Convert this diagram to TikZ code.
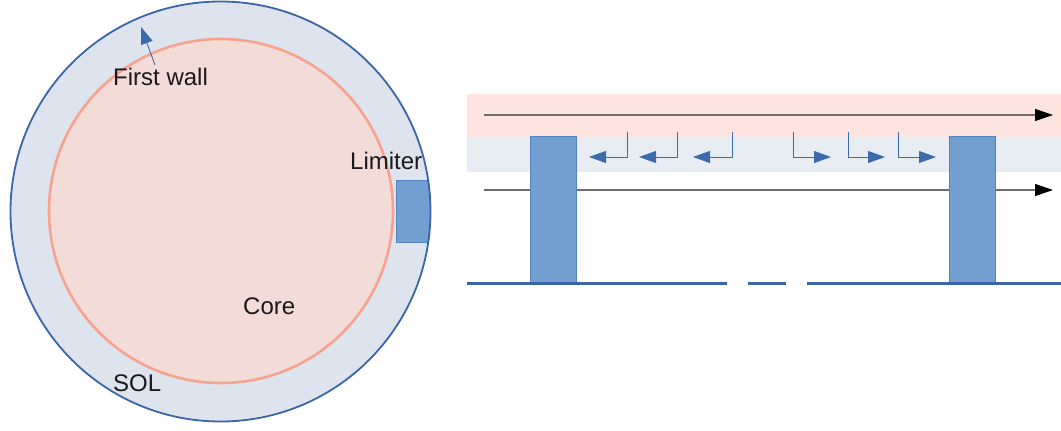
\documentclass[tikz,border=0pt]{standalone}
\usepackage{fontspec}
\setmainfont{Liberation Sans}
\usetikzlibrary{arrows.meta}
\definecolor{solfill}{HTML}{DDE4EE}
\definecolor{wallc}{HTML}{3A65A8}
\definecolor{corefill}{HTML}{F3DCD8}
\definecolor{corec}{HTML}{F7A28E}
\definecolor{pinkband}{HTML}{FDE4DF}
\definecolor{blueband}{HTML}{E8EDF3}
\definecolor{limfill}{HTML}{729FCF}
\definecolor{limdraw}{HTML}{5582C0}
\definecolor{arrc}{HTML}{3D6AAC}
\definecolor{flowc}{HTML}{6E6E6E}
\tikzset{
  lbl/.style={font=\fontsize{24}{28}\selectfont, text=black!90, inner sep=0pt},
  limbox/.style={fill=limfill, draw=limdraw, line width=1pt},
  sarrow/.style={draw=arrc, line width=0.9pt, -{Triangle[length=17pt,width=12pt]}},
  flow/.style={draw=flowc, line width=1.2pt, -{Triangle[length=18pt,width=12pt,fill=black,color=black]}},
  floor/.style={draw=wallc, line width=3pt}
}
\begin{document}
\begin{tikzpicture}[x=1pt,y=-1pt]
\useasboundingbox (0,0) rectangle (1061,431);
% left: cross-section
\node[circle, fill=solfill, minimum size=420pt, inner sep=0pt] (sol) at (220.5,211.5) {};
\node[circle, fill=corefill, draw=corec, line width=2.6pt, minimum size=344pt, inner sep=0pt] (core) at (221,211) {};
\begin{scope}
  \clip (220.5,211.5) circle[radius=210];
  \draw[limbox] (396,180) rectangle (445,242);
\end{scope}
\node[circle, draw=wallc, line width=1.8pt, minimum size=420pt, inner sep=0pt] (wall) at (220.5,211.5) {};
\node[lbl, anchor=base west] (fw) at (113,85) {First wall};
\coordinate (fwtip) at (141,27);
\coordinate (fwstart) at (155,65);
\draw[draw=arrc, line width=0.9pt, -{Triangle[length=17pt,width=12pt]}] (fwstart) -- (fwtip);
\node[lbl, anchor=base west] (lim) at (350,169) {Limiter};
\node[lbl, anchor=base west] (corel) at (243,314) {Core};
\node[lbl, anchor=base west] (soll) at (113,391) {SOL};
% right: unfolded view
\fill[pinkband] (467,94) rectangle (1061,137);
\fill[blueband] (467,137) rectangle (1061,172);
\coordinate (f1s) at (484,115);
\coordinate (f1e) at (1053,115);
\coordinate (f2s) at (484,190);
\coordinate (f2e) at (1053,190);
\draw[flow] (f1s) -- (f1e);
\draw[flow] (f2s) -- (f2e);
\node[limbox, minimum width=46pt, minimum height=147pt, inner sep=0pt, anchor=north west] (limL) at (530,136) {};
\node[limbox, minimum width=46pt, minimum height=147pt, inner sep=0pt, anchor=north west] (limR) at (949,136) {};
% small flow arrows
\foreach \i/\xs/\xt in {1/627/589, 2/677/639, 3/732/693, 4/793/831, 5/848/885, 6/898/936} {
  \coordinate (s\i) at (\xs,132);
  \coordinate (t\i) at (\xt,157);
  \draw[sarrow] (s\i) |- (t\i);
}
% floor
\coordinate (fa) at (467,283);
\coordinate (fb) at (727,283);
\coordinate (fc) at (748,283);
\coordinate (fd) at (786,283);
\coordinate (fe) at (807,283);
\coordinate (ff) at (1061,283);
\draw[floor] (fa) -- (fb);
\draw[floor] (fc) -- (fd);
\draw[floor] (fe) -- (ff);
\end{tikzpicture}
\end{document}
